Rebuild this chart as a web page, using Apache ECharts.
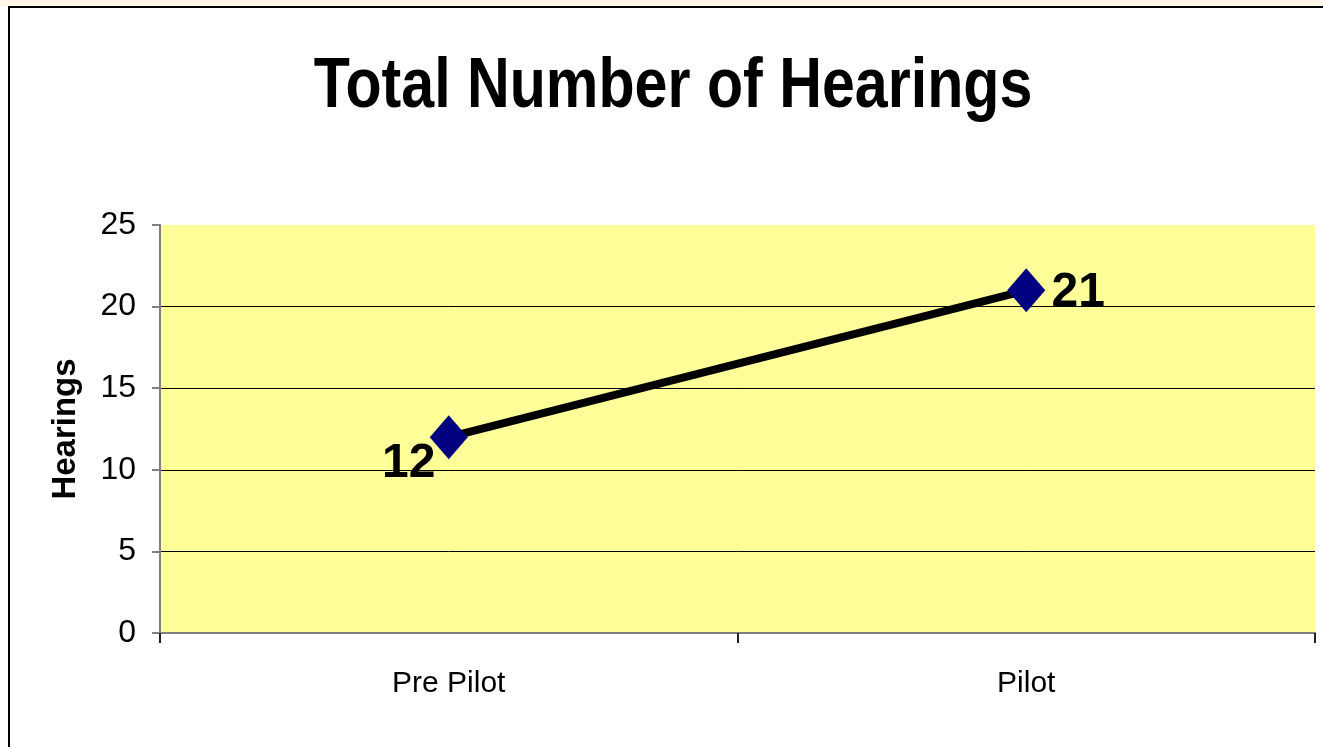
<!DOCTYPE html>
<html>
<head>
    <meta charset="utf-8">
    <title>Total Number of Hearings</title>
    <style>
        html, body { margin: 0; padding: 0; background: #fff; }
        #container { width: 1323px; height: 747px; }
    </style>
</head>
<body>
    <div id="container"></div>

    <script src="https://cdn.jsdelivr.net/npm/echarts@6/dist/echarts.min.js"></script>
    <script>
    // chart data
    var chartTitle = 'Total Number of Hearings';
    var categories = ['Pre Pilot', 'Pilot'];
    var hearings = [12, 21];
    var yMin = 0, yMax = 25, yStep = 5;

    var font = "'Liberation Sans', Arial, sans-serif";

    var myChart = echarts.init(document.getElementById('container'));

    var option = {
        backgroundColor: '#fff',
        animation: false,
        graphic: [
            // cream strip at the very top of the slide
            { type: 'rect', shape: { x: 0, y: 0, width: 1323, height: 7 }, style: { fill: '#FFF8EA' }, z: -1 },
            // chart frame
            { type: 'rect', shape: { x: 9, y: 7, width: 1340, height: 770 }, style: { fill: 'none', stroke: '#000', lineWidth: 2 }, z: -1 },
            // title, squeezed horizontally like the narrow font of the original
            {
                type: 'text',
                x: 673,
                y: 88,
                scaleX: 0.845,
                style: {
                    text: chartTitle,
                    font: 'bold 70px ' + font,
                    fill: '#000',
                    align: 'center',
                    verticalAlign: 'middle'
                }
            }
        ],
        grid: {
            left: 160,
            right: 8,
            top: 225,
            bottom: 114,
            show: true,
            backgroundColor: '#FFFF99',
            borderWidth: 0
        },
        xAxis: {
            type: 'category',
            data: categories,
            boundaryGap: true,
            axisLine: { lineStyle: { color: '#808080', width: 2 } },
            axisTick: { show: true, length: 10, lineStyle: { color: '#222', width: 2 } },
            axisLabel: { margin: 36, fontFamily: font, fontSize: 30, color: '#000' }
        },
        yAxis: {
            type: 'value',
            min: yMin,
            max: yMax,
            interval: yStep,
            name: 'Hearings',
            nameLocation: 'middle',
            nameGap: 78,
            nameTextStyle: { fontFamily: font, fontWeight: 'bold', fontSize: 33, color: '#000' },
            axisLine: { show: true, lineStyle: { color: '#808080', width: 2 } },
            axisTick: { show: true, length: 8, lineStyle: { color: '#808080', width: 2 } },
            axisLabel: { margin: 24, fontFamily: font, fontSize: 32, color: '#000' },
            splitLine: { show: true, lineStyle: { color: ['#000', '#000', '#000', '#000', '#000', 'rgba(0,0,0,0)'], width: 1 } }
        },
        series: [{
            type: 'line',
            data: hearings.map(function (v, i) {
                return {
                    value: v,
                    label: i === 0
                        ? { position: 'inside', offset: [-40, 27] }
                        : { position: 'inside', offset: [52, 2] }
                };
            }),
            symbol: 'diamond',
            symbolSize: [38, 44],
            showAllSymbol: true,
            lineStyle: { color: '#000', width: 8 },
            itemStyle: { color: '#000080' },
            label: {
                show: true,
                fontFamily: font,
                fontWeight: 'bold',
                fontSize: 48,
                color: '#000'
            },
            z: 3
        }]
    };

    myChart.setOption(option);
    </script>
</body>
</html>
